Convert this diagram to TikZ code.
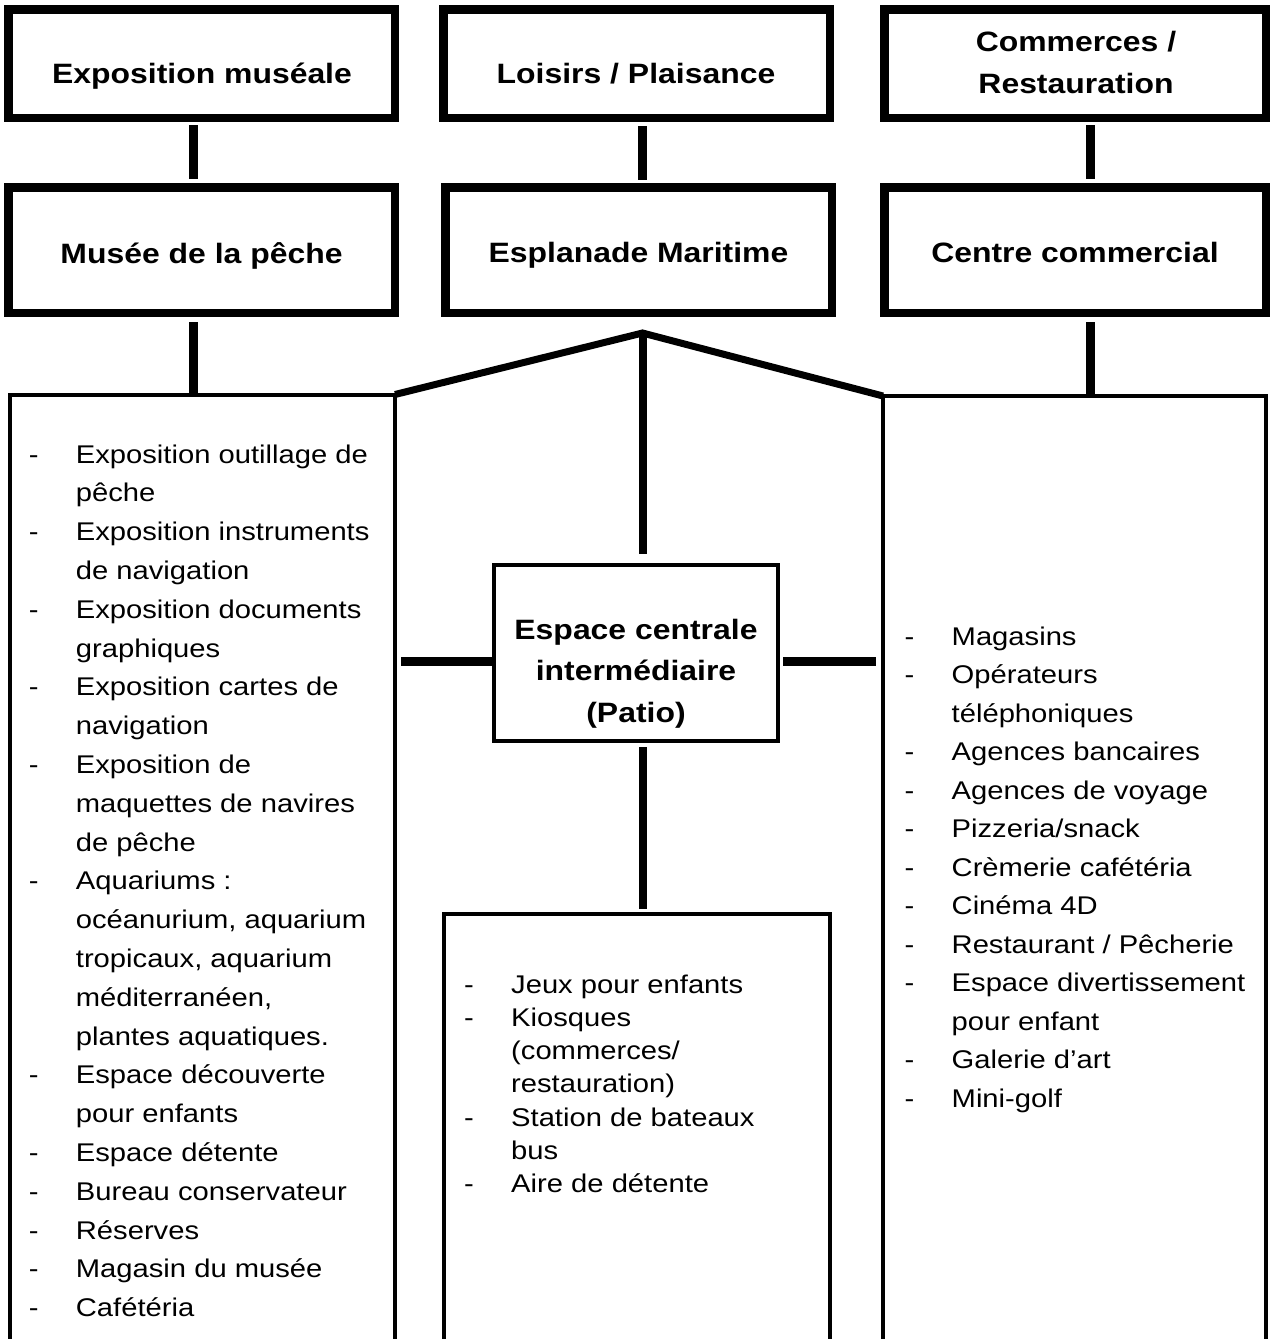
\documentclass[tikz,border=0pt]{standalone}
\usepackage{fontspec}
\setmainfont{Liberation Sans}[FakeStretch=1.14]

\tikzset{
  box/.style={draw, line width=8.5pt, minimum width=386.5pt, minimum height=108.5pt, inner sep=0pt},
  patiobox/.style={draw, line width=4pt, minimum width=284pt, minimum height=176pt, inner sep=0pt},
  title/.style={font=\fontsize{28}{41.5}\selectfont\bfseries, anchor=base, align=center, inner sep=0pt},
  items/.style={font=\fontsize{25.6}{38.8}\selectfont, anchor=base west, align=left, inner sep=0pt},
  link/.style={line width=9pt},
  wall/.style={line width=4pt},
}
\newcommand{\puce}{\makebox[47pt][l]{-}}
\newcommand{\suite}{\hspace*{47pt}}

\begin{document}
\begin{tikzpicture}[x=1pt, y=-1pt]
\useasboundingbox (0,0) rectangle (1271,1339);

% top row
\node[box] (expo) at (201.5,63.5) {};
\node[box] (loisirs) at (636.5,63.5) {};
\node[box, minimum width=381.5pt] (commerces) at (1075,63.5) {};
% second row
\node[box, minimum height=125.5pt] (musee) at (201.5,250) {};
\node[box, minimum height=125.5pt] (esplanade) at (638.5,250) {};
\node[box, minimum height=125.5pt, minimum width=381.5pt] (centre) at (1075,250) {};

% titles (base = last line)
\node[title] (expoT) at (202,83) {Exposition muséale};
\node[title] (loisirsT) at (636,83) {Loisirs / Plaisance};
\node[title] (commercesT) at (1076,93) {Commerces /\\Restauration};
\node[title] (museeT) at (201.5,263) {Musée de la pêche};
\node[title] (esplanadeT) at (638.5,262) {Esplanade Maritime};
\node[title] (centreT) at (1075,262) {Centre commercial};

% lower part
\coordinate (roofL) at (395,394.5);
\coordinate (roofR) at (883,396);
\coordinate (apex) at (642.5,333);
\coordinate (museeList) at (193.5,394.5);
\coordinate (centreList) at (1090.5,396);
\coordinate (kioskTop) at (642.5,912);

\draw[wall] (10,1339) |- (roofL) -- (395,1339);
\draw[wall] (roofR |- 0,1339) |- (1266,396) -- (1266,1339);
\draw[line width=7pt, line join=miter] (roofL) -- (apex) -- (roofR);
\draw[line width=4.5pt] (444,1339) |- (830,914) -- (830,1339);

\node[patiobox] (patio) at (636,653) {};
\node[title] (patioT) at (636,722) {Espace centrale\\intermédiaire\\(Patio)};

% connectors
\draw[link, shorten <=3pt, shorten >=4pt] (expo.south -| museeList) -- (musee.north -| museeList);
\draw[link, shorten <=4pt, shorten >=3pt] (loisirs.south -| apex) -- (esplanade.north -| apex);
\draw[link, shorten <=3pt, shorten >=4pt] (commerces.south -| centreList) -- (centre.north -| centreList);
\draw[link, shorten <=5pt] (musee.south -| museeList) -- (museeList);
\draw[link, shorten <=5pt] (centre.south -| centreList) -- (centreList);
\draw[link, line width=8pt, shorten >=9pt] (apex) -- (patio.north -| apex);
\draw[link, shorten >=6pt] ([yshift=-8pt]patio.west) -- ([yshift=-8pt]patio.west -| roofL);
\draw[link, shorten <=3pt, shorten >=7pt] ([yshift=-8pt]patio.east) -- ([yshift=-8pt]patio.east -| roofR);
\draw[link, line width=8pt, shorten <=4pt, shorten >=3pt] (patio.south -| apex) -- (kioskTop);

% lists (base = last line)
\node[items] (museeItems) at (28.7,1316.6) {\puce Exposition outillage de\\\suite pêche\\
  \puce Exposition instruments\\\suite de navigation\\
  \puce Exposition documents\\\suite graphiques\\
  \puce Exposition cartes de\\\suite navigation\\
  \puce Exposition de\\\suite maquettes de navires\\\suite de pêche\\
  \puce Aquariums :\\\suite océanurium, aquarium\\\suite tropicaux, aquarium\\\suite méditerranéen,\\\suite plantes aquatiques.\\
  \puce Espace découverte\\\suite pour enfants\\
  \puce Espace détente\\
  \puce Bureau conservateur\\
  \puce Réserves\\
  \puce Magasin du musée\\
  \puce Cafétéria};

\node[items, font=\fontsize{25.6}{33.3}\selectfont] (kioskItems) at (464,1192.8) {\puce Jeux pour enfants\\
  \puce Kiosques\\\suite (commerces/\\\suite restauration)\\
  \puce Station de bateaux\\\suite bus\\
  \puce Aire de détente};

\node[items, font=\fontsize{25.6}{38.5}\selectfont] (centreItems) at (904.5,1107) {\puce Magasins\\
  \puce Opérateurs\\\suite téléphoniques\\
  \puce Agences bancaires\\
  \puce Agences de voyage\\
  \puce Pizzeria/snack\\
  \puce Crèmerie cafétéria\\
  \puce Cinéma 4D\\
  \puce Restaurant / Pêcherie\\
  \puce Espace divertissement\\\suite pour enfant\\
  \puce Galerie d’art\\
  \puce Mini-golf};
\end{tikzpicture}
\end{document}
